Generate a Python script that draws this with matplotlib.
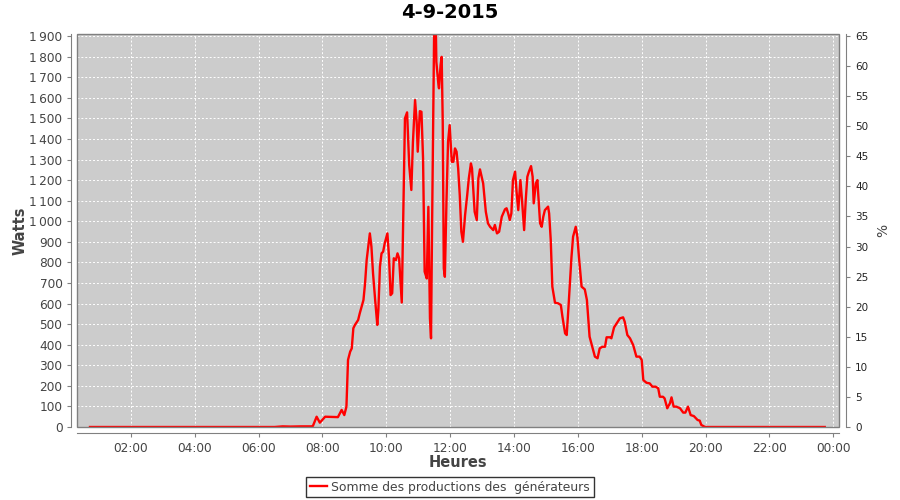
import matplotlib
matplotlib.use("Agg")
import matplotlib.pyplot as plt
from matplotlib.patches import Rectangle
from matplotlib.ticker import FuncFormatter

title = "4-9-2015"
series_name = "Somme des productions des  générateurs"

times = [
    "00:43", "01:30", "02:30", "03:30", "04:30", "05:30", "06:30", "06:45", "07:00",
    "07:20", "07:40", "07:42",
    "07:49", "07:55", "08:05", "08:29", "08:36", "08:41", "08:45", "08:48", "08:52",
    "08:55", "08:58", "09:01", "09:07", "09:10", "09:17", "09:20", "09:23", "09:26",
    "09:29", "09:32", "09:35", "09:39", "09:43", "09:45", "09:48", "09:51", "09:54",
    "09:57", "10:02", "10:05", "10:08", "10:11", "10:14", "10:18", "10:21", "10:24",
    "10:29", "10:35", "10:39", "10:43", "10:47", "10:50", "10:54", "10:57", "10:59",
    "11:03", "11:06", "11:09", "11:12", "11:16", "11:19", "11:22", "11:24", "11:26",
    "11:30", "11:33", "11:34", "11:38", "11:39", "11:42", "11:44", "11:46", "11:48",
    "11:50", "11:53", "11:56", "11:59", "12:03", "12:06", "12:09", "12:12", "12:15",
    "12:18", "12:21", "12:24", "12:28", "12:32", "12:35", "12:39", "12:41", "12:46",
    "12:50", "12:53", "12:56", "13:02", "13:07", "13:11", "13:15", "13:21", "13:24",
    "13:28", "13:32", "13:37", "13:43", "13:46", "13:49", "13:52", "13:55", "13:58",
    "14:02", "14:05", "14:08", "14:12", "14:15", "14:19", "14:22", "14:25", "14:28",
    "14:32", "14:35", "14:37", "14:41", "14:44", "14:45", "14:49", "14:52", "14:55",
    "14:58", "15:04", "15:06", "15:09", "15:12", "15:17", "15:23", "15:28", "15:31",
    "15:36", "15:39", "15:42", "15:45", "15:48", "15:51", "15:56", "15:59", "16:02",
    "16:07", "16:13", "16:17", "16:22", "16:27", "16:32", "16:37", "16:41", "16:46",
    "16:51", "16:54", "17:00", "17:03", "17:08", "17:13", "17:19", "17:25", "17:28",
    "17:33", "17:38", "17:44", "17:50", "17:56", "18:00", "18:03", "18:09", "18:15",
    "18:20", "18:26", "18:31", "18:34", "18:40", "18:43", "18:48", "18:53", "18:56",
    "19:00", "19:05", "19:12", "19:18", "19:22", "19:27", "19:32", "19:38", "19:45",
    "19:49", "19:52", "19:59", "20:30", "21:30", "22:30", "23:44",
]

watts = [
    0, 0, 0, 0, 0, 0, 0, 3, 2,
    3, 3, 5,
    50, 21, 50, 48, 83, 58, 99, 326, 366,
    382, 480, 496, 520, 552, 617, 698, 811, 876,
    941, 876, 747, 617, 496, 568, 779, 844, 852,
    893, 941, 827, 641, 650, 820, 811, 844, 820,
    605, 1500, 1529, 1273, 1152, 1386, 1589, 1484, 1338,
    1535, 1532, 1306, 755, 722, 1070, 528, 431, 982,
    1960, 1950, 1775, 1662, 1646, 1759, 1799, 1484, 771,
    730, 1095, 1386, 1467, 1289, 1289, 1354, 1338, 1257,
    1127, 949, 900, 1030, 1127, 1208, 1281, 1257, 1046,
    1006, 1208, 1252, 1184, 1046, 990, 973, 957, 982,
    941, 949, 1022, 1058, 1063, 1038, 1006, 1038, 1200,
    1241, 1136, 1054, 1200, 1103, 957, 1103, 1216, 1241,
    1268, 1216, 1087, 1184, 1200, 1152, 990, 973, 1022,
    1054, 1071, 1038, 909, 682, 604, 601, 593, 536,
    455, 447, 568, 698, 827, 925, 973, 925, 827,
    682, 669, 617, 439, 390, 342, 334, 382, 390,
    390, 436, 436, 431, 484, 504, 528, 533, 512,
    447, 431, 398, 342, 342, 326, 228, 215, 212,
    196, 196, 188, 147, 147, 139, 91, 115, 144,
    99, 99, 91, 70, 70, 99, 58, 53, 34,
    31, 10, 0, 0, 0, 0, 0,
]

x_tick_hours = [2, 4, 6, 8, 10, 12, 14, 16, 18, 20, 22, 24]
x_tick_labels = ["02:00", "04:00", "06:00", "08:00", "10:00", "12:00",
                 "14:00", "16:00", "18:00", "20:00", "22:00", "00:00"]
y_ticks = list(range(0, 2000, 100))
pct_ticks = list(range(0, 70, 5))

hours = [int(t[:2]) + int(t[3:]) / 60 for t in times]

fig = plt.figure(figsize=(9, 5), dpi=100)
ax = fig.add_axes([77 / 900, 73 / 500, 762 / 900, 393 / 500])
ax.set_facecolor("#cccccc")

ymax = 1910
ax.set_xlim(0.31, 24.18)
ax.set_ylim(0, ymax)

ax.plot(hours, watts, color="#ff0000", lw=1.7, solid_joinstyle="round",
        label=series_name, zorder=3)

grid_kw = dict(color="white", linestyle=(0, (2, 2)), linewidth=0.7)
ax.set_xticks(x_tick_hours)
ax.set_xticklabels(x_tick_labels)
ax.set_yticks(y_ticks)
ax.yaxis.set_major_formatter(FuncFormatter(lambda v, p: f"{int(v):,}".replace(",", "\u2009")))
ax.grid(True, **grid_kw)
ax.set_axisbelow(True)

for side in ["top", "right"]:
    ax.spines[side].set_visible(False)
for side in ["left", "bottom"]:
    ax.spines[side].set_position(("outward", 4))
    ax.spines[side].set_color("#808080")
ax.tick_params(axis="both", colors="#808080", labelcolor="#444444",
               labelsize=8.7, length=3, width=0.8, direction="out")

ax.add_patch(Rectangle((0, 0), 1, 1, transform=ax.transAxes, fill=False,
                       edgecolor="#808080", linewidth=1.0, clip_on=False, zorder=4))

ax2 = ax.twinx()
ax2.set_ylim(0, ymax / 1900 * 65)
ax2.set_yticks(pct_ticks)
for side in ["top", "left", "bottom"]:
    ax2.spines[side].set_visible(False)
ax2.spines["right"].set_position(("outward", 5))
ax2.spines["right"].set_color("#808080")
ax2.tick_params(axis="y", colors="#808080", labelcolor="#222222",
                labelsize=7.5, length=3, width=0.8, direction="out")
ax2.set_ylabel("%", fontsize=10, color="#444444", labelpad=6)

ax.set_ylabel("Watts", fontsize=10.5, fontweight="bold", color="#444444", labelpad=1)
ax.set_xlabel("Heures", fontsize=10.5, fontweight="bold", color="#444444", labelpad=0)
fig.suptitle(title, fontsize=14, fontweight="bold", y=0.993, x=0.5)

leg = fig.legend(loc="center", bbox_to_anchor=(0.5, 0.026), fontsize=8.9,
                 frameon=True, fancybox=False, handlelength=1.4, handletextpad=0.3,
                 borderpad=0.3, edgecolor="black", borderaxespad=0)
leg.get_frame().set_linewidth(1.0)
for t in leg.get_texts():
    t.set_color("#444444")

fig.savefig("out.png", dpi=100)
